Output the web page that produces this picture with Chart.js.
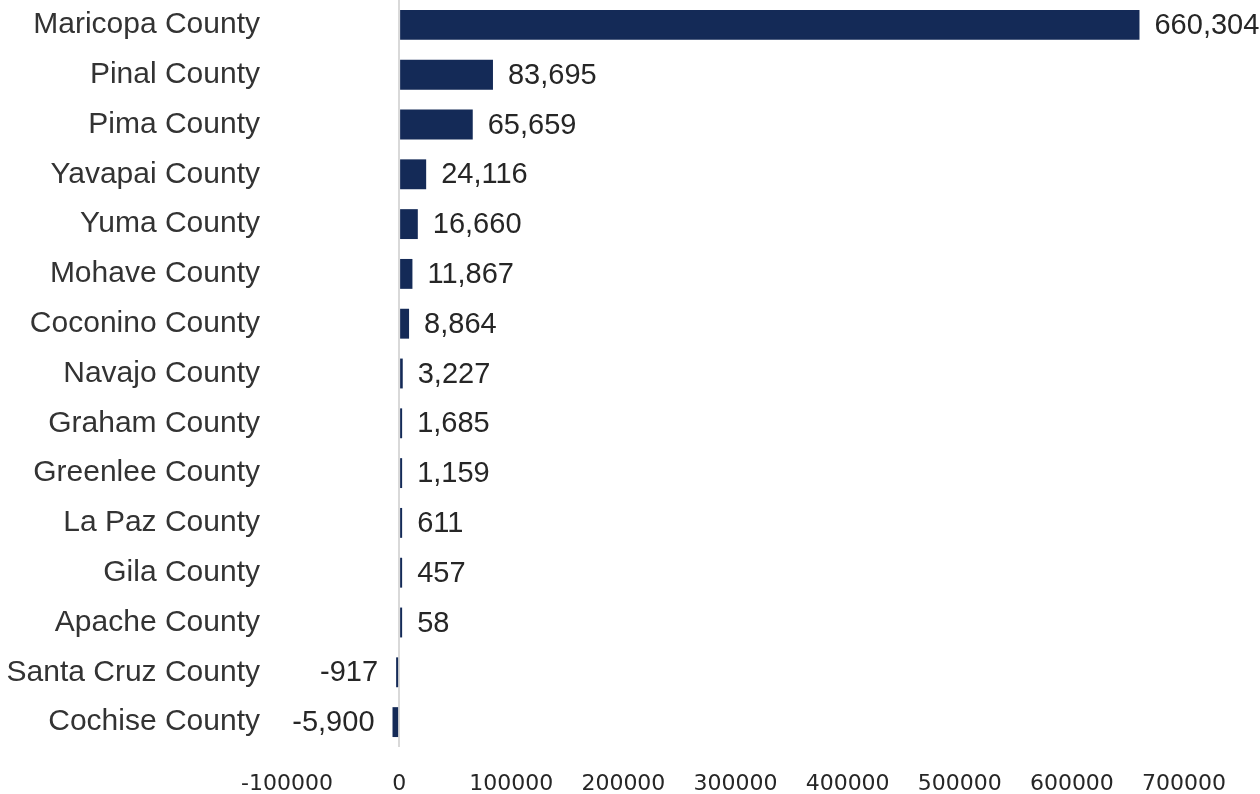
<!DOCTYPE html>
<html>
<head>
<meta charset="utf-8">
<title>Arizona counties</title>
<script src="https://cdn.jsdelivr.net/npm/chart.js@4.4.1/dist/chart.umd.min.js"></script>
<style>
  body { margin: 0; background: #fff; }
  #wrap { width: 1260px; height: 794px; }
</style>
</head>
<body>
<div id="wrap"><canvas id="chart" width="1260" height="794"></canvas></div>
<script>
// county names, top to bottom
const counties = [
    'Maricopa County', 'Pinal County', 'Pima County', 'Yavapai County', 'Yuma County',
    'Mohave County', 'Coconino County', 'Navajo County', 'Graham County', 'Greenlee County',
    'La Paz County', 'Gila County', 'Apache County', 'Santa Cruz County', 'Cochise County'
];
const values = [660304, 83695, 65659, 24116, 16660, 11867, 8864, 3227, 1685, 1159, 611, 457, 58, -917, -5900];
const axisMin = -100000;
const axisMax = 700000;
const axisStep = 100000;

const barColor = '#142a57';

// value labels next to the bar ends
const valueLabels = {
    id: 'valueLabels',
    afterDatasetsDraw(chart) {
        const ctx = chart.ctx;
        const meta = chart.getDatasetMeta(0);
        ctx.save();
        ctx.font = '29px "Liberation Sans", Arial, sans-serif';
        ctx.fillStyle = '#262626';
        ctx.textBaseline = 'middle';
        meta.data.forEach((bar, i) => {
            const v = values[i];
            const txt = v.toLocaleString('en-US');
            if (v >= 0) {
                ctx.textAlign = 'left';
                ctx.fillText(txt, Math.max(bar.x, bar.base) + 15, bar.y + 1);
            } else {
                ctx.textAlign = 'right';
                ctx.fillText(txt, Math.min(bar.x, bar.base) - 18, bar.y + 1);
            }
        });
        ctx.restore();
    }
};

new Chart(document.getElementById('chart'), {
    type: 'bar',
    data: {
        labels: counties,
        datasets: [{
            data: values,
            backgroundColor: barColor,
            borderWidth: 0,
            barPercentage: 0.6,
            categoryPercentage: 1,
            minBarLength: 3
        }]
    },
    options: {
        indexAxis: 'y',
        responsive: false,
        animation: false,
        layout: { padding: { top: 0, right: 76, bottom: 0, left: 0 } },
        plugins: {
            legend: { display: false },
            tooltip: { enabled: false }
        },
        scales: {
            x: {
                min: axisMin,
                max: axisMax,
                border: { display: false },
                grid: {
                    drawTicks: false,
                    lineWidth: 2,
                    color: c => (c.tick && c.tick.value === 0) ? '#d9d9d9' : 'rgba(0,0,0,0)'
                },
                ticks: {
                    stepSize: axisStep,
                    padding: 24,
                    maxRotation: 0,
                    autoSkip: false,
                    color: '#262626',
                    font: { family: '"DejaVu Sans", Verdana, sans-serif', size: 22 },
                    callback: v => String(v)
                },
                afterFit: scale => { scale.height = 47; }
            },
            y: {
                border: { display: false },
                grid: { display: false, drawTicks: false },
                ticks: {
                    padding: 27,
                    autoSkip: false,
                    color: '#333333',
                    font: { family: '"Liberation Sans", Arial, sans-serif', size: 30 }
                },
                afterFit: scale => {
                    scale.width = 287;
                    // no extra room above/below for the label padding
                    scale.paddingTop = 0;
                    scale.paddingBottom = 0;
                }
            }
        }
    },
    plugins: [valueLabels]
});
</script>
</body>
</html>
